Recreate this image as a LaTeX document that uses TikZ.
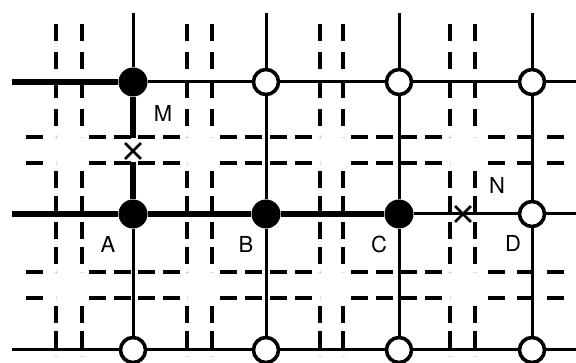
\documentclass[tikz,border=0pt]{standalone}
\usepackage{fontspec}
\setmainfont{TeX Gyre Heros}
\usetikzlibrary{shapes.misc,decorations}

\begin{document}
\begin{tikzpicture}[x=1pt,y=-1pt,
  street/.style={line width=3.2pt,dash pattern=on 17pt off 7pt,dash expand off},
  road/.style={line width=3pt},
  route/.style={line width=6.5pt},
  full/.style={circle,fill=black,minimum size=29pt,inner sep=0pt},
  empty/.style={circle,draw=black,fill=white,line width=3.6pt,minimum size=25pt,inner sep=0pt},
  block/.style={draw,cross out,line width=2.8pt,minimum size=13pt,inner sep=0pt},
  tag/.style={font=\fontsize{22}{22}\selectfont,inner sep=0pt}]
  \useasboundingbox (0,0) rectangle (576,363);
  % street edges of the blocks
  \foreach \x in {56,82,187,212,320,343,450,475} {
    \draw[street] (\x,13) -- (\x,137);
    \draw[street] (\x,163) -- (\x,272);
    \draw[street] (\x,298) -- (\x,356);
  }
  \foreach \y in {137,163,272,298} {
    \foreach \a/\b in {12/56,82/187,212/320,343/450,475/576}
      \draw[street] (\a,\y) -- (\b,\y);
  }
  % junctions
  \node[full]  (n11) at (133,82) {};
  \node[empty] (n21) at (266,82) {};
  \node[empty] (n31) at (399,82) {};
  \node[empty] (n41) at (532,82) {};
  \node[full]  (n12) at (133,214) {};
  \node[full]  (n22) at (266,214) {};
  \node[full]  (n32) at (399,214) {};
  \node[empty] (n42) at (532,214) {};
  \node[empty] (n13) at (133,350) {};
  \node[empty] (n23) at (266,350) {};
  \node[empty] (n33) at (399,350) {};
  \node[empty] (n43) at (532,350) {};
  \node[block] (x1) at (133,151) {};
  \node[block] (x2) at (463,214) {};
  % free ends
  \foreach \i/\x in {1/133,2/266,3/399,4/532}
    \coordinate (t\i) at (\x,13);
  \foreach \j/\y in {1/82,2/214,3/350} {
    \coordinate (l\j) at (12,\y);
    \coordinate (r\j) at (576,\y);
  }
  \coordinate (g1) at (133,138);
  \coordinate (g2) at (133,162);
  % roads
  \foreach \i in {2,3,4}
    \draw[road] (t\i) -- (n\i1) (n\i1) -- (n\i2) (n\i2) -- (n\i3);
  \draw[road] (t1) -- (n11) (n12) -- (n13);
  \draw[road] (n11) -- (n21) (n21) -- (n31) (n31) -- (n41) (n41) -- (r1);
  \draw[road] (n32) -- (n42) (n42) -- (r2);
  \draw[road] (l3) -- (n13) (n13) -- (n23) (n23) -- (n33) (n33) -- (n43) (n43) -- (r3);
  % route taken
  \draw[route] (l1) -- (n11);
  \draw[route] (n11) -- (g1) (g2) -- (n12);
  \draw[route] (l2) -- (n12) (n12) -- (n22) (n22) -- (n32);
  % labels
  \node[tag] (lm) at (163,113) {M};
  \node[tag] (ln) at (497,185) {N};
  \node[tag] (la) at (108,244) {A};
  \node[tag] (lb) at (246,244) {B};
  \node[tag] (lc) at (379,244) {C};
  \node[tag] (ld) at (513,243) {D};
\end{tikzpicture}
\end{document}
